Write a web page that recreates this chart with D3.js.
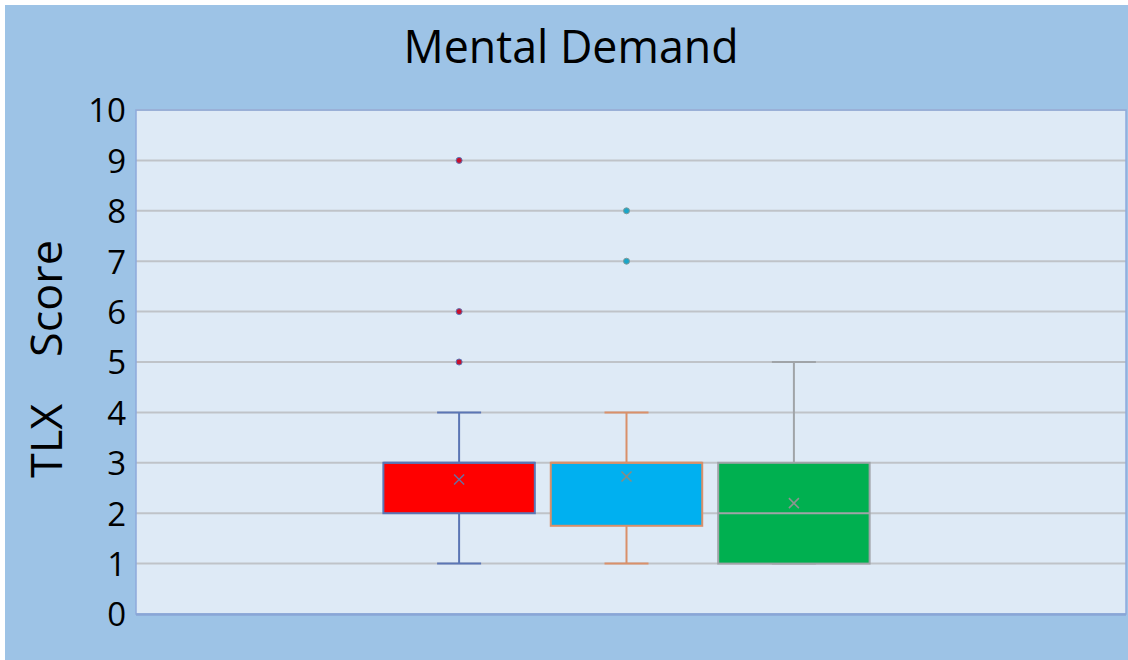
<!DOCTYPE html>
<html><head><meta charset="utf-8">
<script src="https://cdn.jsdelivr.net/npm/d3@7"></script>
<style>html,body{margin:0;padding:0;background:#fff;}svg{display:block;}</style>
</head><body>
<svg id="c" width="1128" height="660"></svg>
<script>
const groups = ["Series 1","Series 2","Series 3"];
const whiskerLow = [1, 1, 1];
const q1 = [2, 1.75, 1];
const median = [3, 3, 2];
const q3 = [3, 3, 3];
const whiskerHigh = [4, 4, 5];
const means = [2.67, 2.73, 2.2];
const outliers = [[5, 6, 9], [7, 8], []];
const yTicks = [0,1,2,3,4,5,6,7,8,9,10];
const fills = ["#FF0000", "#00B0F0", "#00B050"];
const strokes = ["#5B76B5", "#D9906A", "#A0A4A8"];
const markStrokes = ["#6A6FA0", "#8A8A80", "#8E9490"];
const dotFills = ["#C8102E", "#1AA6C8", "#888"];

const svg = d3.select("#c");
const W = 1128, H = 660;
svg.append("rect").attr("x",0).attr("y",0).attr("width",W).attr("height",H).attr("fill","#fff");
svg.append("rect").attr("x",5).attr("y",5).attr("width",W-5).attr("height",H-5).attr("fill","#9DC3E6");

const plot = {l:136, r:1126, t:110, b:614};
const y = d3.scaleLinear().domain([0,10]).range([plot.b, plot.t]);
const x = d3.scaleBand().domain(groups).range([375, 878]).paddingInner(16/168).paddingOuter(0.05);

svg.append("rect").attr("x",plot.l).attr("y",plot.t).attr("width",plot.r-plot.l).attr("height",plot.b-plot.t)
  .attr("fill","#DEEAF6");

// gridlines
svg.append("g").selectAll("line").data(yTicks.filter(d=>d>0)).join("line")
  .attr("x1",plot.l).attr("x2",plot.r).attr("y1",d=>y(d)).attr("y2",d=>y(d))
  .attr("stroke","#BFC3C8").attr("stroke-width",2);

// border
svg.append("rect").attr("x",plot.l).attr("y",plot.t).attr("width",plot.r-plot.l).attr("height",plot.b-plot.t)
  .attr("fill","none").attr("stroke","#8FAADC").attr("stroke-width",1.5);
svg.append("line").attr("x1",plot.l).attr("x2",plot.r).attr("y1",plot.b+0.5).attr("y2",plot.b+0.5)
  .attr("stroke","#8AA6D6").attr("stroke-width",2.5);

// y axis
const yAxis = d3.axisLeft(y).tickValues(yTicks).tickSize(0).tickPadding(10).tickFormat(d3.format("d"));
const ga = svg.append("g").attr("transform",`translate(${plot.l},0)`).call(yAxis);
ga.select(".domain").remove();
ga.selectAll("text").attr("font-family","Open Sans, sans-serif").attr("font-size",33).attr("fill","#000").attr("dy","0.36em");

// title
svg.append("text").attr("x",571).attr("y",63).attr("text-anchor","middle")
  .attr("font-family","Open Sans, sans-serif").attr("font-size",46).attr("fill","#000")
  .attr("textLength",335).attr("lengthAdjust","spacingAndGlyphs").text("Mental Demand");

// y label
svg.append("text").attr("transform","translate(62,359) rotate(-90)").attr("text-anchor","middle")
  .attr("font-family","Open Sans, sans-serif").attr("font-size",44).attr("fill","#000")
  .attr("textLength",238).attr("lengthAdjust","spacingAndGlyphs")
  .attr("xml:space","preserve").style("white-space","pre").text("TLX    Score");

// boxes
const bw = x.bandwidth();
groups.forEach((g,i)=>{
  const cx = x(g) + bw/2;
  const G = svg.append("g");
  const cap = 22;
  G.append("line").attr("x1",cx).attr("x2",cx).attr("y1",y(whiskerHigh[i])).attr("y2",y(q3[i]))
    .attr("stroke",strokes[i]).attr("stroke-width",2);
  G.append("line").attr("x1",cx).attr("x2",cx).attr("y1",y(q1[i])).attr("y2",y(whiskerLow[i]))
    .attr("stroke",strokes[i]).attr("stroke-width",2);
  G.append("line").attr("x1",cx-cap).attr("x2",cx+cap).attr("y1",y(whiskerHigh[i])).attr("y2",y(whiskerHigh[i]))
    .attr("stroke",strokes[i]).attr("stroke-width",2);
  G.append("line").attr("x1",cx-cap).attr("x2",cx+cap).attr("y1",y(whiskerLow[i])).attr("y2",y(whiskerLow[i]))
    .attr("stroke",strokes[i]).attr("stroke-width",2);
  G.append("rect").attr("x",x(g)).attr("y",y(q3[i])).attr("width",bw).attr("height",y(q1[i])-y(q3[i]))
    .attr("fill",fills[i]).attr("stroke",strokes[i]).attr("stroke-width",2);
  G.append("line").attr("x1",x(g)).attr("x2",x(g)+bw).attr("y1",y(median[i])).attr("y2",y(median[i]))
    .attr("stroke",strokes[i]).attr("stroke-width",2);
  const my = y(means[i]), s = 5;
  G.append("path").attr("d",`M${cx-s},${my-s}L${cx+s},${my+s}M${cx-s},${my+s}L${cx+s},${my-s}`)
    .attr("stroke",markStrokes[i]).attr("stroke-width",1.5).attr("fill","none");
  G.selectAll("circle").data(outliers[i]).join("circle")
    .attr("cx",cx).attr("cy",d=>y(d)).attr("r",3)
    .attr("fill",dotFills[i]).attr("stroke",strokes[i]==="#D9906A"?"#7F9A9A":strokes[i]).attr("stroke-width",1);
});
</script>
</body></html>
